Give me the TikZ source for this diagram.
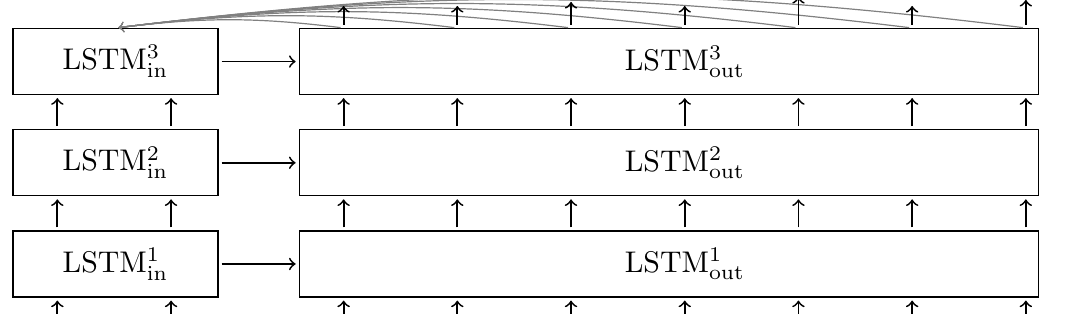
\documentclass[tikz,border=0pt]{standalone}
\usetikzlibrary{positioning}
\begin{document}
\begin{tikzpicture}[
    lstm/.style={draw, minimum height=0.776cm, inner sep=0pt},
    inbox/.style={lstm, minimum width=2.411cm},
    outbox/.style={lstm, minimum width=8.690cm},
    flow/.style={->, semithick, shorten <=1pt, shorten >=1pt},
    feedback/.style={->, gray, shorten <=1pt, shorten >=1pt}
]
    % Frame
    \useasboundingbox (0,0) rectangle (12.723,3.692);

    % Layers
    \node[inbox] (in1) at (1.358,0.588) {LSTM$^1_{\mathrm{in}}$};
    \node[outbox, right=0.941cm of in1] (out1) {\hspace*{0.38cm}LSTM$^1_{\mathrm{out}}$};
    \node[inbox, above=0.400cm of in1] (in2) {LSTM$^2_{\mathrm{in}}$};
    \node[outbox, right=0.941cm of in2] (out2) {\hspace*{0.38cm}LSTM$^2_{\mathrm{out}}$};
    \node[inbox, above=0.400cm of in2] (in3) {LSTM$^3_{\mathrm{in}}$};
    \node[outbox, right=0.941cm of in3] (out3) {\hspace*{0.38cm}LSTM$^3_{\mathrm{out}}$};

    % Feedback into the top input layer
    \foreach \k in {0,...,6}
        \draw[feedback] ([xshift={0.529cm+\k*1.337cm}]out3.north west) to[bend right=7] (in3.north);

    % Input to output
    \foreach \n in {1,2,3}
        \draw[flow] (in\n.east) -- (out\n.west);

    % Vertical arrows, input side
    \foreach \k in {0,1} {
        \draw[flow] ([xshift={0.529cm+\k*1.337cm}, yshift=-0.4cm]in1.south west) -- ([xshift={0.529cm+\k*1.337cm}]in1.south west);
        \draw[flow] ([xshift={0.529cm+\k*1.337cm}]in1.north west) -- ([xshift={0.529cm+\k*1.337cm}]in2.south west);
        \draw[flow] ([xshift={0.529cm+\k*1.337cm}]in2.north west) -- ([xshift={0.529cm+\k*1.337cm}]in3.south west);
    }

    % Vertical arrows, output side
    \foreach \k in {0,...,6} {
        \draw[flow] ([xshift={0.529cm+\k*1.337cm}, yshift=-0.4cm]out1.south west) -- ([xshift={0.529cm+\k*1.337cm}]out1.south west);
        \draw[flow] ([xshift={0.529cm+\k*1.337cm}]out1.north west) -- ([xshift={0.529cm+\k*1.337cm}]out2.south west);
        \draw[flow] ([xshift={0.529cm+\k*1.337cm}]out2.north west) -- ([xshift={0.529cm+\k*1.337cm}]out3.south west);
    }

    % Outputs
    \foreach \k/\l in {0/0.294, 1/0.294, 2/0.341, 3/0.294, 4/0.400, 5/0.294, 6/0.365}
        \draw[flow] ([xshift={0.529cm+\k*1.337cm}]out3.north west) -- ++(0,\l);
\end{tikzpicture}
\end{document}
